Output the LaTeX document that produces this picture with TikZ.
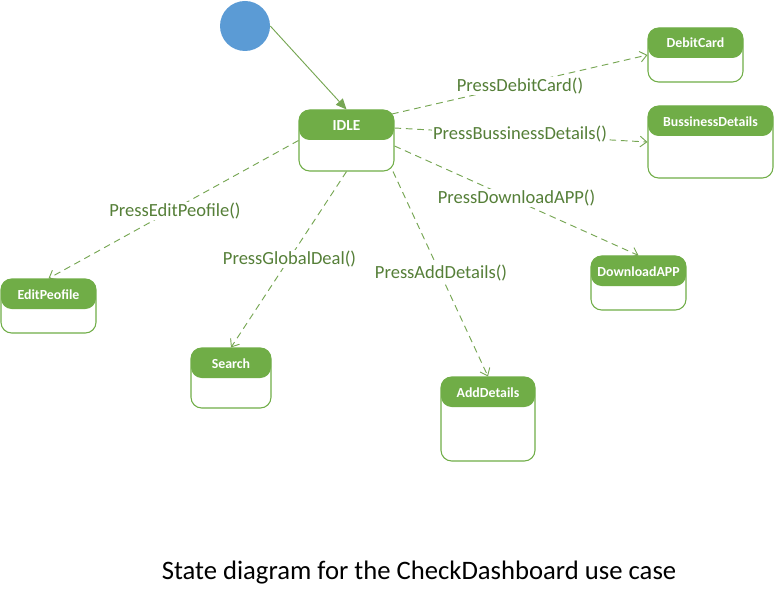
\documentclass[tikz,border=0pt]{standalone}
\usepackage{fontspec}
\setmainfont{Carlito}
\usetikzlibrary{arrows.meta}
\definecolor{hdr}{HTML}{70AD47}
\definecolor{edge}{HTML}{76A653}
\definecolor{lbl}{HTML}{557F38}
\definecolor{initc}{HTML}{5B9BD5}
\begin{document}
\begin{tikzpicture}[x=0.75pt,y=-0.75pt,
  state/.style={draw=hdr,line width=0.8pt,rounded corners=8pt,fill=white,inner sep=0pt,
    path picture={\fill[hdr] (path picture bounding box.north west) rectangle ([yshift=-22.5pt]path picture bounding box.north east);}},
  title/.style={text=white,font=\bfseries\fontsize{10.4}{12}\selectfont,inner sep=0pt},
  trans/.style={draw=edge,line width=0.7pt,dash pattern=on 5pt off 3.5pt,-{Straight Barb[length=5pt,width=8pt]}},
  tlabel/.style={fill=white,text=lbl,font=\fontsize{13.9}{16}\selectfont,inner sep=1pt}]
\useasboundingbox (0,0) rectangle (774,602);
% initial
\node[circle,fill=initc,minimum size=37.5pt,inner sep=0pt] (init) at (245,26) {};
% states
\node[state,minimum width=71.25pt,minimum height=45.75pt] (idle) at (346.5,140.5) {};
\node[title,font=\bfseries\fontsize{11.5}{13}\selectfont] (idlet) at (346.5,126) {IDLE};
\node[state,minimum width=71.25pt,minimum height=40.5pt] (dc) at (695.5,55) {};
\node[title] (dct) at (695.5,43) {DebitCard};
\node[state,minimum width=93.75pt,minimum height=54pt] (bd) at (710.5,142) {};
\node[title] (bdt) at (710.5,121.5) {BussinessDetails};
\node[state,minimum width=71.25pt,minimum height=40.5pt] (ep) at (48.5,306) {};
\node[title] (ept) at (48.5,294.5) {EditPeofile};
\node[state,minimum width=60pt,minimum height=45pt] (se) at (231,378) {};
\node[title] (set) at (231,363.5) {Search};
\node[state,minimum width=70.5pt,minimum height=63pt] (ad) at (488,419) {};
\node[title] (adt) at (488,393) {AddDetails};
\node[state,minimum width=71.25pt,minimum height=40.5pt] (dl) at (638.5,283) {};
\node[title] (dlt) at (638.5,271.5) {DownloadAPP};
% initial transition
\draw[draw=edge,line width=0.7pt,-{Triangle[length=8pt,width=7pt]}] (init.east) -- (idle.north);
% transitions
\draw[trans] ([shift={(45.5,-26.5)}]idle.center) -- (dc.west);
\draw[trans] ([shift={(0,-12.5)}]idle.east) -- (bd.west);
\draw[trans] ([shift={(0,5.5)}]idle.east) -- (dl.north);
\draw[trans] ([shift={(-1.5,0)}]idle.south east) -- (ad.north);
\draw[trans] (idle.south) -- (se.north);
\draw[trans] (idle.west) -- (ep.north);
% labels
\node[tlabel] (l1) at (520,86) {PressDebitCard()};
\node[tlabel] (l2) at (520,134) {PressBussinessDetails()};
\node[tlabel] (l3) at (516.5,198) {PressDownloadAPP()};
\node[tlabel] (l4) at (441,273) {PressAddDetails()};
\node[tlabel] (l5) at (289.5,259) {PressGlobalDeal()};
\node[tlabel] (l6) at (175,211) {PressEditPeofile()};
% caption
\node[font=\fontsize{20}{24}\selectfont] (cap) at (419,573) {State diagram for the CheckDashboard use case};
\end{tikzpicture}
\end{document}
